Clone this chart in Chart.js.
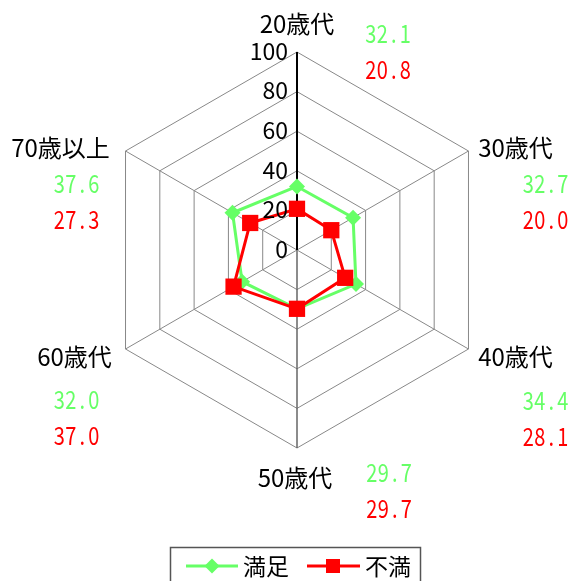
<!DOCTYPE html>
<html>
<head>
<meta charset="utf-8">
<script src="https://cdn.jsdelivr.net/npm/chart.js@4/dist/chart.umd.min.js"></script>
<style>
  body { margin: 0; background: #fff; }
  #wrap { width: 572px; height: 581px; position: relative; }
</style>
</head>
<body>
<div id="wrap"><canvas id="radar"></canvas></div>
<script>
// 年代
const labels = ['20歳代', '30歳代', '40歳代', '50歳代', '60歳代', '70歳以上'];
// 満足 / 不満 (%)
const manzoku = [32.1, 32.7, 34.4, 29.7, 32.0, 37.6];
const fuman = [20.8, 20.0, 28.1, 29.7, 37.0, 27.3];
const tickValues = [0, 20, 40, 60, 80, 100];

const GREEN = '#66ff66';
const RED = '#ff0000';
const FONT = "'Noto Sans CJK JP', 'Noto Sans', sans-serif";

// ラベル位置 (頂点からのずれ)
const labelOffset = [[0, -28], [47, -3], [47, 8], [-2, 30], [-51, 8], [-65, -3]];
const valueOffset = [[91, -19], [77, 32], [77, 51], [92, 24], [-49, 50], [-49, 32]];
const rowGap = 36;

function drawMono(ctx, text, cx, cy, color) {
  // 等幅っぽく1文字ずつ描く
  const pitch = 11.5;
  const x0 = cx - pitch * text.length / 2;
  ctx.save();
  ctx.fillStyle = color;
  ctx.font = '25px ' + FONT;
  ctx.textAlign = 'center';
  ctx.textBaseline = 'middle';
  for (let k = 0; k < text.length; k++) {
    ctx.save();
    ctx.translate(x0 + pitch * (k + 0.5), cy);
    ctx.scale(0.8, 1);
    ctx.fillText(text[k], 0, 0);
    ctx.restore();
  }
  ctx.restore();
}

const extraText = {
  id: 'extraText',
  afterDraw(chart) {
    const ctx = chart.ctx;
    const scale = chart.scales.r;

    // 目盛り
    ctx.save();
    ctx.fillStyle = '#000';
    ctx.font = '23px ' + FONT;
    ctx.textAlign = 'right';
    ctx.textBaseline = 'middle';
    tickValues.forEach(v => {
      const p = scale.getPointPositionForValue(0, v);
      ctx.fillText(String(v), p.x - 9, p.y - 1);
    });

    // 項目名と値
    ctx.font = '24px ' + FONT;
    ctx.textAlign = 'center';
    labels.forEach((lab, i) => {
      const p = scale.getPointPosition(i, scale.drawingArea);
      ctx.fillStyle = '#000';
      ctx.fillText(lab, p.x + labelOffset[i][0], p.y + labelOffset[i][1]);
      const vx = p.x + valueOffset[i][0];
      const vy = p.y + valueOffset[i][1];
      drawMono(ctx, manzoku[i].toFixed(1), vx, vy, GREEN);
      drawMono(ctx, fuman[i].toFixed(1), vx, vy + rowGap, RED);
    });
    ctx.restore();

    // 凡例
    ctx.save();
    ctx.strokeStyle = '#555';
    ctx.lineWidth = 1.5;
    ctx.strokeRect(170.5, 547.5, 250, 60);
    const ly = 566;
    ctx.lineWidth = 3;
    ctx.strokeStyle = GREEN;
    ctx.beginPath(); ctx.moveTo(186, ly); ctx.lineTo(238, ly); ctx.stroke();
    ctx.fillStyle = GREEN;
    ctx.beginPath();
    ctx.moveTo(212, ly - 7.5); ctx.lineTo(219.5, ly); ctx.lineTo(212, ly + 7.5); ctx.lineTo(204.5, ly);
    ctx.closePath(); ctx.fill();
    ctx.strokeStyle = RED;
    ctx.beginPath(); ctx.moveTo(307, ly); ctx.lineTo(360, ly); ctx.stroke();
    ctx.fillStyle = RED;
    ctx.fillRect(326, ly - 7, 14, 14);
    ctx.fillStyle = '#000';
    ctx.font = '23px ' + FONT;
    ctx.textAlign = 'left';
    ctx.textBaseline = 'middle';
    ctx.fillText('満足', 243, ly);
    ctx.fillText('不満', 365, ly);
    ctx.restore();
  }
};

new Chart(document.getElementById('radar'), {
  type: 'radar',
  data: {
    labels: labels,
    datasets: [{
      label: '満足',
      data: manzoku,
      order: 2,
      borderColor: GREEN,
      backgroundColor: GREEN,
      borderWidth: 3,
      fill: false,
      pointStyle: 'rectRot',
      pointRadius: 8,
      pointBorderWidth: 0,
      pointHoverRadius: 8
    }, {
      label: '不満',
      data: fuman,
      order: 1,
      borderColor: RED,
      backgroundColor: RED,
      borderWidth: 3,
      fill: false,
      pointStyle: 'rect',
      pointRadius: 11.5,
      pointBorderWidth: 0,
      pointHoverRadius: 11.5
    }]
  },
  options: {
    responsive: true,
    maintainAspectRatio: false,
    animation: false,
    layout: { padding: { left: 99, right: 77, top: 52, bottom: 133 } },
    plugins: { legend: { display: false }, tooltip: { enabled: false } },
    scales: {
      r: {
        min: 0,
        max: 100,
        ticks: { stepSize: 20, display: false },
        grid: { color: '#888', lineWidth: 1 },
        angleLines: {
          color: ctx => ctx.index === 0 ? '#000' : (ctx.index === 3 ? '#666' : '#888'),
          lineWidth: ctx => ctx.index === 0 ? 2 : (ctx.index === 3 ? 1.5 : 1)
        },
        pointLabels: { display: false }
      }
    }
  },
  plugins: [extraText]
});
</script>
</body>
</html>
